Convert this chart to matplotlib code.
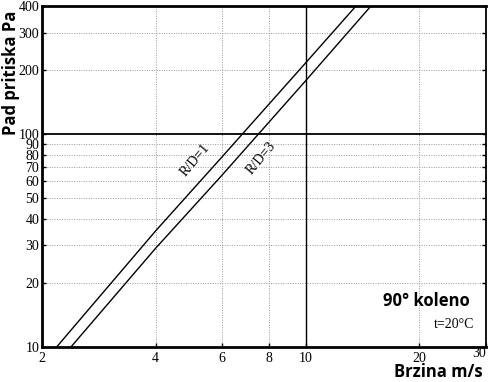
import matplotlib
matplotlib.use("Agg")
import matplotlib.pyplot as plt
from matplotlib.ticker import NullLocator, FixedLocator, FixedFormatter

# brzina (m/s) a pad tlaku (Pa)
v_rd1 = [2.19, 4, 6, 10, 13.6]
p_rd1 = [10, 35, 78, 216, 400]
v_rd3 = [2.39, 4, 6, 10, 14.9]
p_rd3 = [10, 29, 64, 178, 400]

x_ticks = [2, 4, 6, 8, 10, 20, 30]
y_ticks = [10, 20, 30, 40, 50, 60, 70, 80, 90, 100, 200, 300, 400]

serif = "Liberation Serif"

fig = plt.figure(figsize=(4.9, 3.82), dpi=100)
ax = fig.add_axes([0.0857, 0.0924, 0.9053, 0.8919])

ax.set_xscale("log")
ax.set_yscale("log")
ax.set_xlim(2, 30)
ax.set_ylim(10, 400)

# mřížka tečkovaně
for xv in x_ticks[1:-1]:
    if xv == 10:
        ax.axvline(xv, color="black", lw=1.0, zorder=2)
    else:
        ax.axvline(xv, color="#999999", lw=0.7, ls=(0, (1, 1.5)), zorder=1)
for yv in y_ticks[1:-1]:
    if yv == 100:
        ax.axhline(yv, color="black", lw=1.3, zorder=2)
    else:
        ax.axhline(yv, color="#999999", lw=0.7, ls=(0, (1, 1.5)), zorder=1)

# průběhy
ax.plot(v_rd1, p_rd1, color="black", lw=1.0, zorder=3)
ax.plot(v_rd3, p_rd3, color="black", lw=1.0, zorder=3)

# popisky přímo do grafu
ax.text(5.1, 75, "R/D=1", rotation=50, family=serif, fontsize=10,
        ha="center", va="center")
ax.text(7.6, 77, "R/D=3", rotation=50, family=serif, fontsize=10,
        ha="center", va="center")
ax.text(0.965, 0.135, "90° koleno", transform=ax.transAxes, fontsize=12,
        fontweight="bold", family="Open Sans", ha="right", va="center")
ax.text(0.975, 0.065, "t=20°C", transform=ax.transAxes, fontsize=10,
        family=serif, ha="right", va="center")

# osy
ax.xaxis.set_major_locator(FixedLocator(x_ticks))
ax.xaxis.set_major_formatter(FixedFormatter([str(t) for t in x_ticks[:-1]] + [""]))
ax.xaxis.set_minor_locator(NullLocator())
ax.yaxis.set_major_locator(FixedLocator(y_ticks))
ax.yaxis.set_major_formatter(FixedFormatter([str(t) for t in y_ticks]))
ax.yaxis.set_minor_locator(NullLocator())
ax.tick_params(axis="both", direction="in", length=3, width=1,
               labelsize=10, right=True, pad=4)
ax.tick_params(axis="y", pad=2)
for lab in ax.get_xticklabels() + ax.get_yticklabels():
    lab.set_family(serif)

# popisek 30 je v originále posunutý doleva a nahoru
ax.annotate(str(x_ticks[-1]), xy=(x_ticks[-1], 10), xycoords="data",
            xytext=(0, 0), textcoords="offset points", ha="right", va="top",
            family=serif, fontsize=10, annotation_clip=False)

for side in ["left", "bottom", "top"]:
    ax.spines[side].set_linewidth(2)
ax.spines["right"].set_linewidth(1.3)

fig.text(0.985, 0.012, "Brzina m/s", fontsize=12, fontweight="bold",
         family="Open Sans", ha="right", va="baseline")
fig.text(0.005, 0.81, "Pad pritiska Pa", fontsize=12, fontweight="bold",
         family="Open Sans", rotation=90, ha="left", va="center")

fig.savefig("out.png", dpi=100)
